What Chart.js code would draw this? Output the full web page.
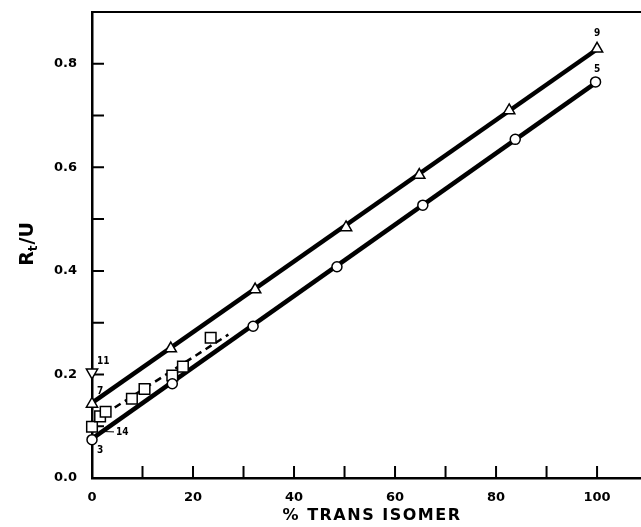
<!DOCTYPE html>
<html>
<head>
<meta charset="utf-8">
<script src="https://cdn.jsdelivr.net/npm/chart.js@4/dist/chart.umd.min.js"></script>
<style>
  html, body { margin: 0; padding: 0; background: #fff; }
  #wrap { width: 641px; height: 527px; }
</style>
</head>
<body>
<div id="wrap"><canvas id="c" width="641" height="527"></canvas></div>
<script>
// values (x = % trans isomer, y = Rt/U)
const triX = [0, 15.6, 32.3, 50.3, 64.8, 82.6, 100];
const triY = [0.143, 0.25, 0.364, 0.484, 0.585, 0.71, 0.829];
const circX = [0, 15.9, 31.9, 48.5, 65.5, 83.8, 99.7];
const circY = [0.074, 0.182, 0.293, 0.408, 0.527, 0.654, 0.765];
const sqX = [0, 1.6, 2.7, 7.9, 10.4, 15.9, 18, 23.5];
const sqY = [0.099, 0.119, 0.128, 0.153, 0.172, 0.198, 0.215, 0.271];
const invTriX = [0];
const invTriY = [0.204];

// drawn lines (endpoints)
const triLineX = [0, 100];
const triLineY = [0.145, 0.828];
const circLineX = [0.6, 100];
const circLineY = [0.08, 0.765];
const sqLineX = [0.5, 27];
const sqLineY = [0.111, 0.277];

const xTicks = [0, 10, 20, 30, 40, 50, 60, 70, 80, 90, 100];
const xLabels = [0, 20, 40, 60, 80, 100];
const yTicks = [0, 0.1, 0.2, 0.3, 0.4, 0.5, 0.6, 0.7, 0.8];
const yLabels = [0, 0.2, 0.4, 0.6, 0.8];

// compound numbers beside the points
const tagText = ["9", "5", "11", "7", "3", "14"];
const tagX = [100, 100, 0, 0, 0, 0];
const tagY = [0.829, 0.765, 0.204, 0.143, 0.074, 0.09];

const pts = (xs, ys) => xs.map((x, i) => ({ x: x, y: ys[i] }));
const FONT = "'DejaVu Sans', sans-serif";

const markerBase = {
  showLine: false,
  backgroundColor: "#fff",
  borderColor: "#000",
  pointBorderWidth: 1.5,
  clip: false,
  order: 1,
};
const lineBase = {
  showLine: true,
  pointRadius: 0,
  borderColor: "#000",
  borderWidth: 4.5,
  clip: false,
  order: 2,
};

const decor = {
  id: "decor",
  beforeDatasetsDraw(chart) {
    const { ctx, chartArea: a, scales } = chart;
    ctx.save();
    ctx.strokeStyle = "#000";
    ctx.lineWidth = 2;
    // top frame
    ctx.beginPath();
    ctx.moveTo(a.left - 1, a.top);
    ctx.lineTo(a.right, a.top);
    ctx.stroke();
    // inward ticks
    ctx.beginPath();
    xTicks.forEach((v) => {
      const px = scales.x.getPixelForValue(v);
      ctx.moveTo(px, a.bottom);
      ctx.lineTo(px, a.bottom - 12);
    });
    yTicks.forEach((v) => {
      const py = scales.y.getPixelForValue(v);
      ctx.moveTo(a.left, py);
      ctx.lineTo(a.left + 12, py);
    });
    ctx.stroke();
    ctx.restore();
  },
  afterDatasetsDraw(chart) {
    const { ctx, chartArea: a, scales } = chart;
    ctx.save();
    ctx.fillStyle = "#000";
    ctx.strokeStyle = "#000";
    ctx.font = "bold 10px 'DejaVu Sans Condensed', " + FONT;
    const off = [
      [0, -15, "center"],
      [0, -12, "center"],
      [5, -11, "left"],
      [5, -13, "left"],
      [5, 11, "left"],
      [24, 1, "left"],
    ];
    ctx.textBaseline = "middle";
    tagText.forEach((t, i) => {
      const px = scales.x.getPixelForValue(tagX[i]);
      const py = scales.y.getPixelForValue(tagY[i]);
      ctx.textAlign = off[i][2];
      ctx.fillText(t, px + off[i][0], py + off[i][1]);
    });
    // leader for 14
    const lx = scales.x.getPixelForValue(0);
    const ly = scales.y.getPixelForValue(0.09);
    ctx.lineWidth = 1;
    ctx.beginPath();
    ctx.moveTo(lx + 7, ly);
    ctx.lineTo(lx + 22, ly + 0.5);
    ctx.stroke();

    // axis titles
    ctx.font = "bold 16px " + FONT;
    ctx.letterSpacing = "1.5px";
    ctx.textAlign = "center";
    ctx.textBaseline = "middle";
    ctx.fillText("% TRANS ISOMER", 372, 516);
    ctx.letterSpacing = "0px";

    ctx.translate(26, 244);
    ctx.rotate(-Math.PI / 2);
    ctx.font = "bold 19px " + FONT;
    const w1 = ctx.measureText("R").width;
    ctx.font = "bold 12px " + FONT;
    const w2 = ctx.measureText("t").width;
    ctx.font = "bold 19px " + FONT;
    const w3 = ctx.measureText("/U").width;
    let x0 = -(w1 + w2 + w3 + 1) / 2;
    ctx.textAlign = "left";
    ctx.textBaseline = "alphabetic";
    ctx.fillText("R", x0, 7);
    ctx.font = "bold 12px " + FONT;
    ctx.fillText("t", x0 + w1, 11);
    ctx.font = "bold 19px " + FONT;
    ctx.fillText("/U", x0 + w1 + w2 + 1, 7);
    ctx.restore();
  },
};

new Chart(document.getElementById("c"), {
  type: "scatter",
  data: {
    datasets: [
      { ...lineBase, data: pts(triLineX, triLineY) },
      { ...lineBase, data: pts(circLineX, circLineY) },
      { ...lineBase, data: pts(sqLineX, sqLineY), borderWidth: 2.5, borderDash: [7, 5] },
      { ...markerBase, data: pts(triX, triY), pointStyle: "triangle", pointRadius: 6.5 },
      { ...markerBase, data: pts(circX, circY), pointStyle: "circle", pointRadius: 5 },
      { ...markerBase, data: pts(sqX, sqY), pointStyle: "rect", pointRadius: 7.5 },
      { ...markerBase, data: pts(invTriX, invTriY), pointStyle: "triangle", pointRotation: 180, pointRadius: 6.5 },
    ],
  },
  options: {
    responsive: false,
    animation: false,
    layout: { autoPadding: false, padding: { top: 12, right: 0, left: 0, bottom: 0 } },
    plugins: { legend: { display: false }, tooltip: { enabled: false } },
    scales: {
      x: {
        type: "linear",
        min: 0,
        max: 108.7,
        afterBuildTicks: (s) => { s.ticks = xTicks.map((v) => ({ value: v })); },
        afterFit: (s) => { s.height = 49; s.paddingLeft = 0; s.paddingRight = 0; },
        grid: { display: false, drawTicks: false },
        border: { display: true, color: "#000", width: 2.5 },
        ticks: {
          padding: 12,
          color: "#000",
          font: { family: FONT, size: 13, weight: "bold" },
          maxRotation: 0,
          callback: (v) => (xLabels.includes(v) ? String(v) : ""),
        },
      },
      y: {
        type: "linear",
        min: 0,
        max: 0.9,
        afterBuildTicks: (s) => { s.ticks = yTicks.map((v) => ({ value: v })); },
        afterFit: (s) => { s.width = 92; s.paddingTop = 0; s.paddingBottom = 0; },
        grid: { display: false, drawTicks: false },
        border: { display: true, color: "#000", width: 2.5 },
        ticks: {
          padding: 15,
          color: "#000",
          font: { family: FONT, size: 13, weight: "bold" },
          callback: (v) => (yLabels.some((l) => Math.abs(l - v) < 1e-6) ? v.toFixed(1) : ""),
        },
      },
    },
  },
  plugins: [decor],
});
</script>
</body>
</html>
